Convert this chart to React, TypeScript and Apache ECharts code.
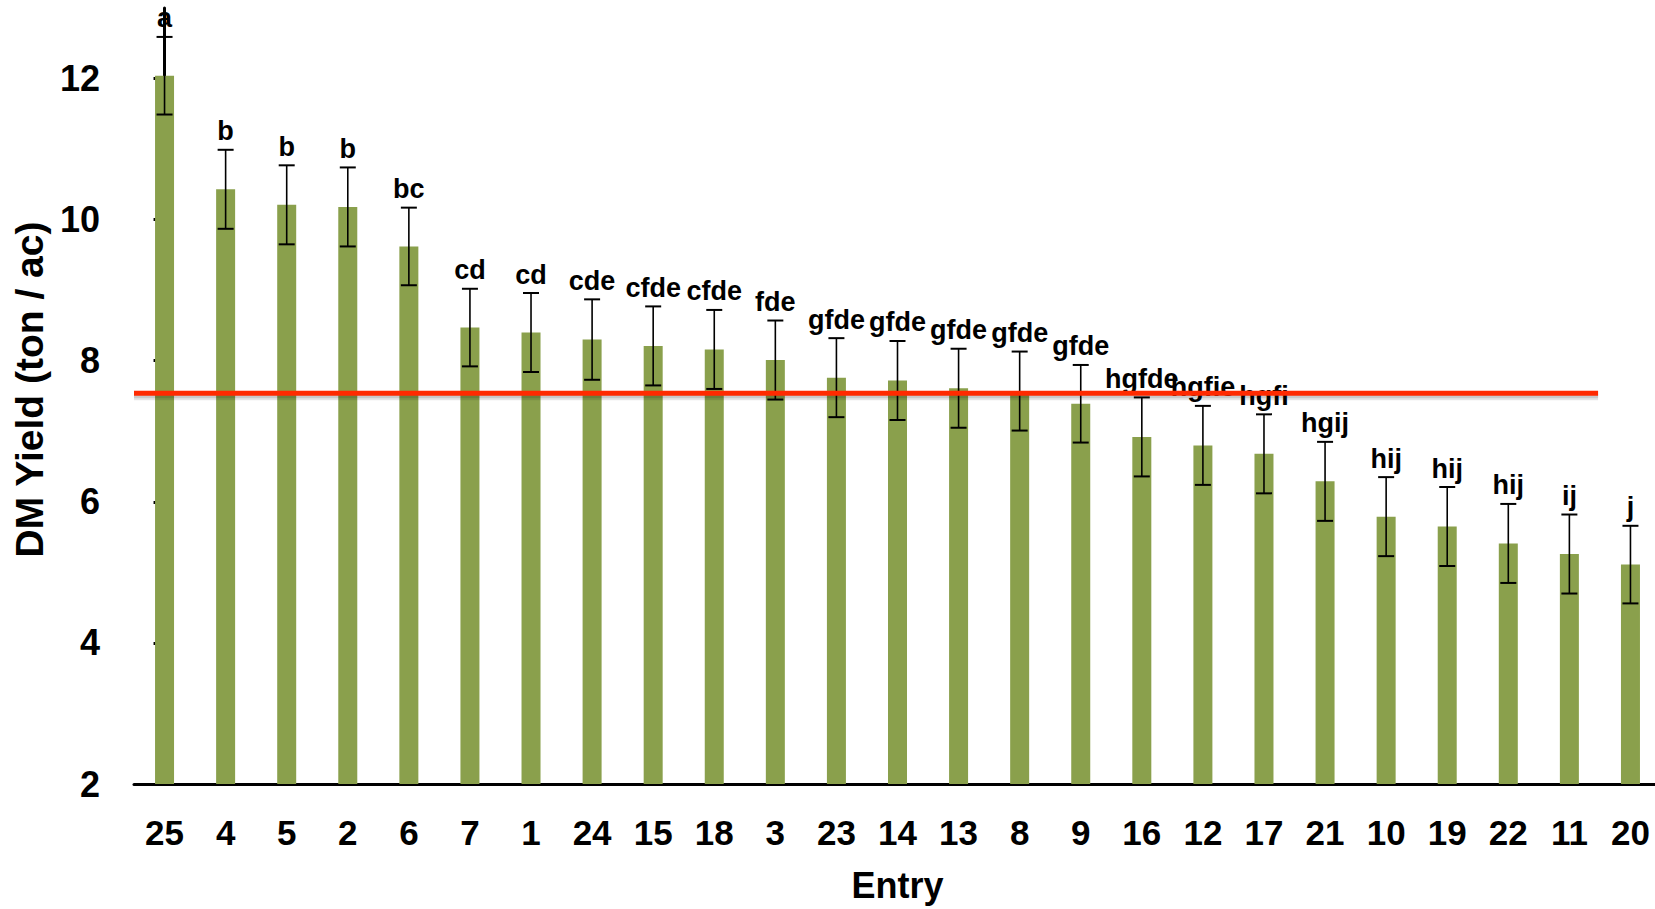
import React, { useEffect, useRef } from "react";
import * as echarts from "echarts";

const entries = ["25", "4", "5", "2", "6", "7", "1", "24", "15", "18", "3", "23", "14", "13", "8", "9", "16", "12", "17", "21", "10", "19", "22", "11", "20"];
const yieldMeans = [12.04, 10.43, 10.21, 10.18, 9.62, 8.47, 8.40, 8.30, 8.21, 8.16, 8.01, 7.76, 7.72, 7.61, 7.57, 7.39, 6.92, 6.80, 6.68, 6.29, 5.79, 5.65, 5.41, 5.26, 5.11];
const errors = [0.55, 0.56, 0.56, 0.56, 0.55, 0.55, 0.56, 0.57, 0.56, 0.56, 0.56, 0.56, 0.56, 0.56, 0.56, 0.55, 0.56, 0.56, 0.56, 0.56, 0.56, 0.56, 0.56, 0.56, 0.55];
const letters = ["a", "b", "b", "b", "bc", "cd", "cd", "cde", "cfde", "cfde", "fde", "gfde", "gfde", "gfde", "gfde", "gfde", "hgfde", "hgfie", "hgfi", "hgij", "hij", "hij", "hij", "ij", "j"];
const yTicks = [2, 4, 6, 8, 10, 12];
const yMin = 2;
const yMax = 13;
const refValue = 7.54;
const refSpan = [-0.5, 23.47];

const FONT = "'Liberation Sans', Arial, Helvetica, sans-serif";

export default function App() {
  const ref = useRef<HTMLDivElement>(null);
  useEffect(() => {
    if (!ref.current) return;
    const chart = echarts.init(ref.current, undefined, { renderer: "svg" });
    const errData = yieldMeans.map((v, i) => [i, v - errors[i], v + errors[i]]);
    chart.setOption({
      animation: false,
      backgroundColor: "#ffffff",
      grid: {
        left: 134,
        top: 8,
        width: 1527,
        height: 776,
        containLabel: false,
        outerBoundsMode: "none",
      },
      xAxis: [
        {
          type: "category",
          data: entries,
          boundaryGap: true,
          name: "Entry",
          nameLocation: "middle",
          nameGap: 83,
          nameTextStyle: { fontSize: 36, fontWeight: "bold", color: "#000", fontFamily: FONT },
          axisLine: { lineStyle: { color: "#000", width: 3 } },
          axisTick: { show: false },
          axisLabel: { fontSize: 35, fontWeight: "bold", color: "#000", fontFamily: FONT, margin: 31, interval: 0 },
          splitLine: { show: false },
        },
        {
          type: "value",
          min: -0.5,
          max: 24.5,
          show: false,
        },
      ],
      yAxis: {
        type: "value",
        min: yMin,
        max: yMax,
        name: "DM Yield (ton / ac)",
        nameLocation: "middle",
        nameGap: 85,
        nameTextStyle: { fontSize: 39, fontWeight: "bold", color: "#000", fontFamily: FONT, padding: [0, 0, 0, 13] },
        axisLine: { show: true, lineStyle: { color: "#000", width: 3 } },
        axisTick: { show: true, length: 11, lineStyle: { color: "#000", width: 3 }, customValues: yTicks },
        axisLabel: { fontSize: 36, fontWeight: "bold", color: "#000", fontFamily: FONT, margin: 34, customValues: yTicks },
        splitLine: { show: false },
      },
      series: [
        {
          type: "bar",
          data: yieldMeans,
          barWidth: 19,
          itemStyle: { color: "#8AA04C" },
          xAxisIndex: 0,
        },
        {
          type: "custom",
          xAxisIndex: 0,
          data: errData,
          encode: { x: 0, y: [1, 2] },
          z: 5,
          renderItem: (params: any, api: any) => {
            const idx = api.value(0);
            const lo = api.coord([idx, api.value(1)]);
            const hi = api.coord([idx, api.value(2)]);
            const cx = hi[0];
            const hw = 8;
            return {
              type: "group",
              children: [
                { type: "line", shape: { x1: cx, y1: hi[1], x2: cx, y2: lo[1] }, style: { stroke: "#000", lineWidth: 1.6 } },
                { type: "line", shape: { x1: cx - hw, y1: hi[1], x2: cx + hw, y2: hi[1] }, style: { stroke: "#000", lineWidth: 2 } },
                { type: "line", shape: { x1: cx - hw, y1: lo[1], x2: cx + hw, y2: lo[1] }, style: { stroke: "#000", lineWidth: 2 } },
                {
                  type: "text",
                  x: cx,
                  y: hi[1] - 5,
                  style: {
                    text: letters[params.dataIndex],
                    align: "center",
                    verticalAlign: "bottom",
                    fontSize: 27,
                    fontWeight: "bold",
                    fontFamily: FONT,
                    fill: "#000",
                  },
                },
              ],
            };
          },
        },
        {
          type: "custom",
          xAxisIndex: 1,
          data: [[refSpan[0], refSpan[1], refValue]],
          encode: { x: [0, 1], y: 2 },
          z: 10,
          renderItem: (params: any, api: any) => {
            const a = api.coord([api.value(0), api.value(2)]);
            const b = api.coord([api.value(1), api.value(2)]);
            return {
              type: "group",
              children: [
                { type: "line", shape: { x1: a[0], y1: a[1] + 4, x2: b[0], y2: b[1] + 4 }, style: { stroke: "rgba(0,0,0,0.10)", lineWidth: 6 } },
                { type: "line", shape: { x1: a[0], y1: a[1] + 3, x2: b[0], y2: b[1] + 3 }, style: { stroke: "rgba(0,0,0,0.12)", lineWidth: 4 } },
                { type: "line", shape: { x1: a[0], y1: a[1], x2: b[0], y2: b[1] }, style: { stroke: "#FF2A00", lineWidth: 5 } },
              ],
            };
          },
        },
      ],
    });
    return () => chart.dispose();
  }, []);
  return (
    <div style={{ position: "fixed", left: 0, top: 0, width: 1655, height: 909, overflow: "hidden", background: "#fff" }}>
      <div ref={ref} style={{ width: 1662, height: 909 }} />
    </div>
  );
}
